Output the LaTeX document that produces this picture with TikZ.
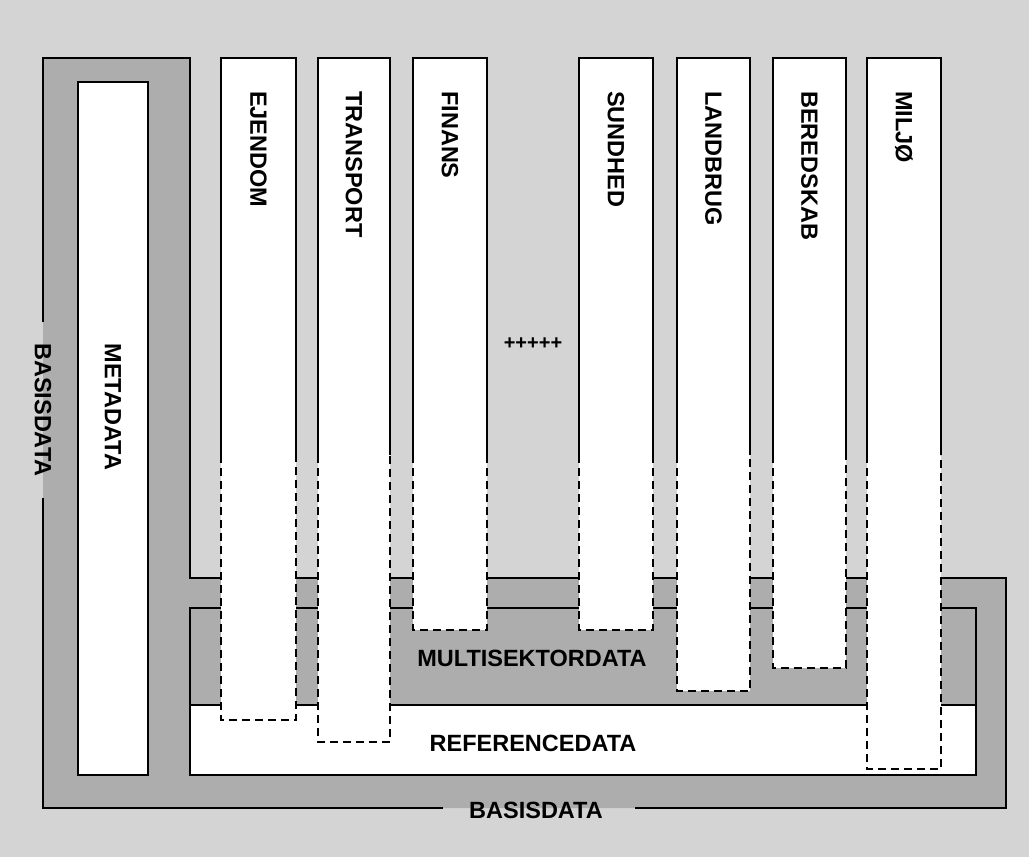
\documentclass[tikz,border=0pt]{standalone}
\usepackage{fontspec}
\setmainfont{Liberation Sans}
\definecolor{bglight}{gray}{0.83}
\definecolor{banddark}{gray}{0.68}
\begin{document}
\begin{tikzpicture}[x=1pt,y=-1pt,
  solidline/.style={line width=2.4pt, line join=miter},
  thinline/.style={line width=1.4pt},
  dashline/.style={line width=2.2pt, dash pattern=on 8pt off 5pt},
  lbl/.style={font=\fontsize{23.5}{23.5}\selectfont\bfseries, inner sep=0pt},
  vlbl/.style={lbl, rotate=-90, anchor=west},
]
\useasboundingbox (0,0) rectangle (1029,857);
% background
\fill[bglight] (0,0) rectangle (1029,857);
% basisdata band (dark)
\fill[banddark] (43,58) -- (190,58) -- (190,578) -- (1006,578) -- (1006,808) -- (43,808) -- cycle;
% referencedata area
\fill[white] (190,705) rectangle (976,775);
% metadata box
\draw[thinline, fill=white] (78,82) rectangle (148,775);
% outer basisdata outline with label gaps
\draw[solidline] (43,322) -- (43,58) -- (190,58) -- (190,578) -- (1006,578) -- (1006,808) -- (635,808);
\draw[solidline] (443,808) -- (43,808) -- (43,498);
% multisektordata / referencedata outline
\draw[solidline] (190,608) -- (976,608) -- (976,775) -- (190,775) -- cycle;
\draw[solidline] (190,705) -- (976,705);
% sector columns
\foreach \a/\b/\c/\t/\n in {221/296/720/EJENDOM/ej, 318/390/742/TRANSPORT/tr, 413/487/630/FINANS/fi, 579/653/630/SUNDHED/su, 677/750/691/LANDBRUG/la, 773/846/668/BEREDSKAB/be, 867/941/769/MILJØ/mi}{
  \fill[white] (\a,58) rectangle (\b,\c);
  \draw[solidline] (\a,455) -- (\a,58) -- (\b,58) -- (\b,455);
  \draw[dashline] (\a,455) -- (\a,\c) -- (\b,\c) -- (\b,455);
  \node[vlbl] (\n) at ({(\a+\b)/2},91) {\t};
}
% labels
\node[lbl, rotate=-90] (meta) at (113,407) {METADATA};
\node[lbl, rotate=-90] (basisl) at (43,410) {BASISDATA};
\node[lbl] (basisb) at (536,810) {BASISDATA};
\node[lbl] (multi) at (532,658) {MULTISEKTORDATA};
\node[lbl] (ref) at (533,743) {REFERENCEDATA};
\node[font=\fontsize{20}{20}\selectfont\bfseries, inner sep=0pt] (plus) at (533,344) {+++++};
\end{tikzpicture}
\end{document}
